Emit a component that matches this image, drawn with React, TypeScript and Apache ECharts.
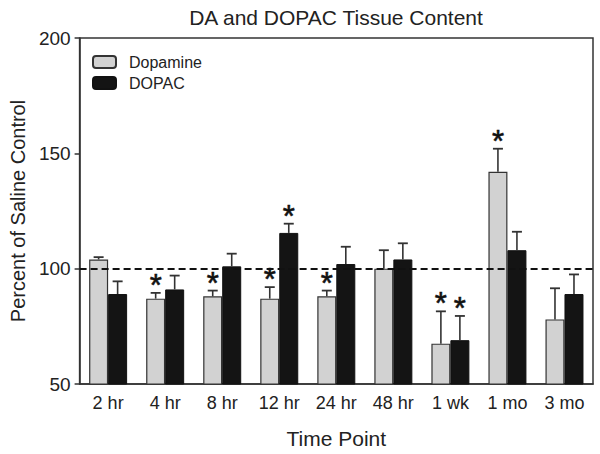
import React, { useEffect, useRef } from "react";
import * as echarts from "echarts";

const categories = ["2 hr", "4 hr", "8 hr", "12 hr", "24 hr", "48 hr", "1 wk", "1 mo", "3 mo"];
const dopamine = [104, 87, 88, 87, 88, 100, 67.5, 142, 78];
const dopamineErr = [1, 2.5, 2.5, 5, 2.5, 8, 14, 10, 13.5];
const dopamineStar = [0, 1, 1, 1, 1, 0, 1, 1, 0];
const dopac = [89, 91, 101, 115.5, 102, 104, 69, 108, 89];
const dopacErr = [5.5, 6, 5.5, 4, 7.5, 7, 10.5, 8, 8.5];
const dopacStar = [0, 0, 0, 1, 0, 0, 1, 0, 0];

const BAR_W = 19;
const FONT = "Liberation Sans, Arial, sans-serif";

function errSeries(vals: number[], errs: number[], stars: number[], offset: number, color: string) {
  return {
    type: "custom",
    z: 5,
    data: vals.map((v, i) => [i, v, errs[i], stars[i]]),
    encode: { x: 0, y: 1 },
    renderItem: (params: any, api: any) => {
      const i = api.value(0);
      const v = api.value(1);
      const e = api.value(2);
      const s = api.value(3);
      const p0 = api.coord([i, v]);
      const p1 = api.coord([i, v + e]);
      const x = p0[0] + offset;
      const children: any[] = [
        { type: "line", shape: { x1: x, y1: p0[1], x2: x, y2: p1[1] }, style: { stroke: color, lineWidth: 1.6 } },
        { type: "line", shape: { x1: x - 5, y1: p1[1], x2: x + 5, y2: p1[1] }, style: { stroke: color, lineWidth: 1.8 } },
      ];
      if (s) {
        children.push({
          type: "text",
          style: {
            text: "*",
            x: x,
            y: p1[1] + 8,
            align: "center",
            verticalAlign: "bottom",
            font: "normal 31px " + FONT,
            fill: "#111",
            stroke: "#111",
            lineWidth: 0.6,
          },
        });
      }
      return { type: "group", children };
    },
  };
}

export default function App() {
  const ref = useRef<HTMLDivElement>(null);
  useEffect(() => {
    if (!ref.current) return;
    const chart = echarts.init(ref.current, null, { renderer: "svg" });
    chart.setOption({
      animation: false,
      backgroundColor: "#fff",
      textStyle: { fontFamily: FONT },
      title: {
        text: "DA and DOPAC Tissue Content",
        left: 331,
        textAlign: "center",
        top: 2,
        textStyle: { fontSize: 21, fontWeight: "normal", color: "#222", fontFamily: FONT },
      },
      legend: {
        left: 87,
        top: 49,
        orient: "vertical",
        itemWidth: 23,
        itemHeight: 12,
        itemGap: 5,
        textStyle: { fontSize: 16, color: "#222", fontFamily: FONT, padding: [0, 0, 0, 8] },
        data: ["Dopamine", "DOPAC"],
      },
      grid: {
        left: 77,
        right: 7,
        top: 38,
        bottom: 69,
        show: true,
        borderColor: "#333",
        borderWidth: 1.5,
      },
      xAxis: {
        type: "category",
        data: categories,
        name: "Time Point",
        nameLocation: "middle",
        nameGap: 44,
        nameTextStyle: { fontSize: 21, color: "#222", fontFamily: FONT },
        axisLine: { lineStyle: { color: "#333", width: 1.5 } },
        axisTick: { show: false },
        axisLabel: { fontSize: 18, color: "#222", margin: 10, fontFamily: FONT },
      },
      yAxis: {
        type: "value",
        min: 50,
        max: 200,
        interval: 50,
        name: "Percent of Saline Control",
        nameLocation: "middle",
        nameGap: 51,
        nameTextStyle: { fontSize: 20, color: "#222", fontFamily: FONT },
        splitLine: { show: false },
        axisLine: { show: true, lineStyle: { color: "#333", width: 1.5 } },
        axisTick: { show: true, length: 5, lineStyle: { color: "#333", width: 1.5 } },
        axisLabel: { fontSize: 19, color: "#222", margin: 9, fontFamily: FONT },
      },
      series: [
        {
          name: "Dopamine",
          type: "bar",
          data: dopamine,
          barWidth: BAR_W,
          barGap: "0%",
          itemStyle: { color: "#d2d2d2", borderColor: "#333", borderWidth: 1.2 },
          markLine: {
            silent: true,
            symbol: "none",
            label: { show: false },
            lineStyle: { color: "#111", type: [7, 4], width: 1.8 },
            data: [{ yAxis: 100 }],
          },
        },
        {
          name: "DOPAC",
          type: "bar",
          data: dopac,
          barWidth: BAR_W,
          barGap: "0%",
          itemStyle: { color: "#141414", borderColor: "#111", borderWidth: 1 },
        },
        errSeries(dopamine, dopamineErr, dopamineStar, -BAR_W / 2, "#333"),
        errSeries(dopac, dopacErr, dopacStar, BAR_W / 2, "#333"),
      ],
    });
    return () => chart.dispose();
  }, []);
  return <div ref={ref} style={{ width: 600, height: 454, position: "absolute", left: 0, top: 0 }} />;
}
